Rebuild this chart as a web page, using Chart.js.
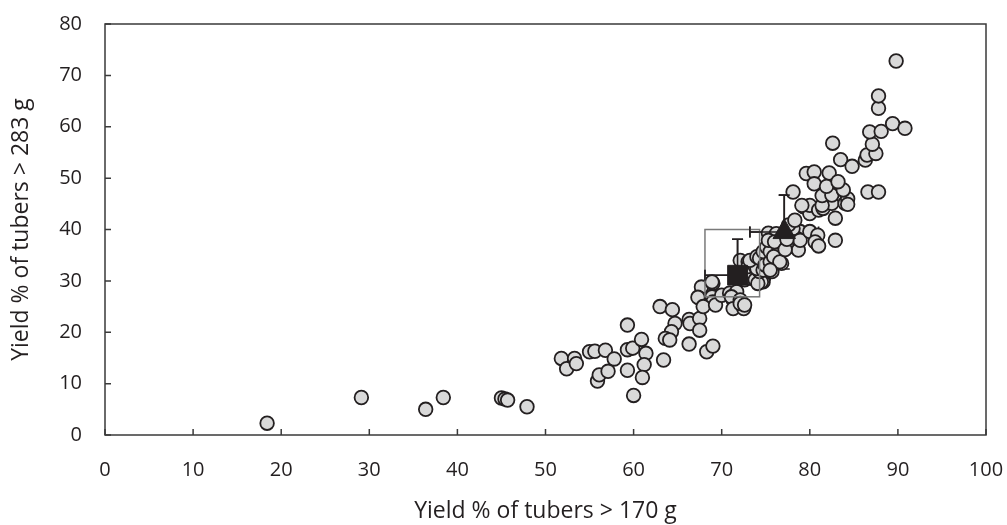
<!DOCTYPE html>
<html lang="en">
<head>
<meta charset="UTF-8">
<title>Tuber yield scatter</title>
<script src="https://cdn.jsdelivr.net/npm/chart.js@4.4.0/dist/chart.umd.min.js"></script>
<style>
  html, body { margin: 0; padding: 0; background: #fff; }
  #wrap { width: 1007px; height: 525px; }
</style>
</head>
<body>
<div id="wrap"><canvas id="chart" width="1007" height="525"></canvas></div>
<script>
// one pair per plot: yield % of tubers > 170 g (x) and > 283 g (y)
const plotX = [
  18.4, 29.1, 36.4, 38.4, 45.0, 45.4, 45.7, 47.9,
  51.8, 52.4, 53.3, 53.5, 55.0, 55.6, 56.8, 57.8, 55.9, 56.1, 57.1, 59.3,
  59.3, 59.9, 60.9, 61.4, 59.3, 61.2, 61.0, 60.0,
  63.0, 64.4, 64.7, 64.3, 63.6, 64.1, 63.4, 66.3, 66.4, 67.5, 67.5, 66.3,
  68.3, 69.0, 67.7, 69.0, 67.5, 68.7, 68.9, 67.3, 68.9, 69.0, 67.9, 69.3,
  70.0, 70.9, 71.3, 71.7, 71.1, 72.1, 71.3, 72.5, 72.1, 72.6, 72.1, 73.0,
  72.6, 73.0, 73.4, 73.8, 74.7, 74.5, 74.1, 74.3, 73.0, 73.8, 74.0, 74.7,
  73.2, 74.0, 74.3, 74.9, 74.7,
  75.5, 75.7, 75.1, 75.5, 76.2, 76.8, 75.3, 76.2, 77.4, 78.3, 78.9, 75.9,
  76.6, 75.3, 76.0, 78.5, 78.7, 78.1, 77.6, 78.3, 78.9, 77.2, 77.4, 75.5,
  80.0, 80.8, 80.9, 80.6, 81.0, 82.9, 79.3, 80.0, 80.0, 81.0, 81.5, 82.5,
  82.9, 79.1, 81.4, 84.0, 84.3, 84.3, 81.4, 82.5, 83.8, 78.1, 79.6, 80.5,
  82.2, 80.5, 81.9, 83.2, 83.5, 84.8, 82.6,
  86.3, 86.5, 87.5, 87.1, 86.8, 88.1, 89.4, 90.8, 87.8, 87.8, 89.8, 86.6, 87.8
];
const plotY = [
  2.3, 7.3, 5.0, 7.3, 7.2, 7.0, 6.8, 5.5,
  14.9, 12.9, 14.9, 13.9, 16.2, 16.3, 16.5, 14.8, 10.5, 11.7, 12.4, 21.4,
  16.6, 16.9, 18.6, 15.9, 12.6, 13.7, 11.2, 7.7,
  25.0, 24.4, 21.7, 20.1, 18.8, 18.5, 14.6, 22.5, 21.7, 22.7, 20.4, 17.7,
  16.2, 17.3, 28.8, 29.5, 26.6, 26.3, 29.8, 26.8, 26.9, 25.9, 25.0, 25.3,
  27.2, 27.6, 26.3, 27.9, 26.9, 26.3, 24.6, 24.6, 25.6, 25.3, 34.0, 33.7,
  30.2, 31.1, 30.5, 30.2, 29.8, 29.8, 29.5, 31.8, 32.8, 32.8, 32.4, 32.1,
  34.0, 34.7, 34.4, 33.1, 35.7,
  33.7, 31.8, 36.6, 35.7, 35.0, 33.4, 39.3, 39.2, 38.6, 36.6, 39.6, 34.7,
  33.7, 37.9, 37.6, 38.3, 36.0, 40.2, 40.9, 41.8, 37.9, 36.1, 38.1, 32.1,
  39.6, 37.3, 38.9, 37.6, 36.8, 37.9, 44.4, 43.1, 44.7, 43.8, 44.1, 45.1,
  42.2, 44.7, 44.7, 45.1, 46.0, 44.9, 46.6, 46.7, 47.7, 47.3, 50.9, 51.2,
  51.0, 48.9, 48.4, 49.3, 53.6, 52.3, 56.8,
  53.5, 54.5, 54.8, 56.6, 59.0, 59.1, 60.6, 59.7, 63.6, 66.0, 72.8, 47.3, 47.3
];

// group means: square, triangle, with their spread
const meanX = [71.8, 77.1];
const meanY = [31.1, 39.5];
const sdX = [3.7, 3.9];
const sdY = [7.0, 7.2];

// outlined range box
const boxX = [68.1, 74.3];
const boxY = [26.9, 40.0];

const xTicks = [0, 10, 20, 30, 40, 50, 60, 70, 80, 90, 100];
const yTicks = [0, 10, 20, 30, 40, 50, 60, 70, 80];

const ink = '#231f20';
Chart.defaults.font.family = "'Open Sans', sans-serif";
Chart.defaults.color = ink;

const extras = {
  id: 'extras',
  beforeDatasetsDraw(chart) {
    const { ctx, scales: { x, y } } = chart;
    ctx.save();
    ctx.strokeStyle = ink;
    ctx.lineWidth = 1.6;
    meanX.forEach((mx, i) => {
      const px = x.getPixelForValue(mx), py = y.getPixelForValue(meanY[i]);
      const x0 = x.getPixelForValue(mx - sdX[i]), x1 = x.getPixelForValue(mx + sdX[i]);
      const y0 = y.getPixelForValue(meanY[i] - sdY[i]), y1 = y.getPixelForValue(meanY[i] + sdY[i]);
      ctx.beginPath();
      ctx.moveTo(x0, py); ctx.lineTo(x1, py);
      ctx.moveTo(px, y0); ctx.lineTo(px, y1);
      ctx.moveTo(x0, py - 5.5); ctx.lineTo(x0, py + 5.5);
      ctx.moveTo(x1, py - 5.5); ctx.lineTo(x1, py + 5.5);
      ctx.moveTo(px - 5.5, y0); ctx.lineTo(px + 5.5, y0);
      ctx.moveTo(px - 5.5, y1); ctx.lineTo(px + 5.5, y1);
      ctx.stroke();
    });
    ctx.restore();
  },
  afterDatasetDraw(chart, args) {
    if (args.index !== 2) return;
    const { ctx, scales: { x, y } } = chart;
    const l = x.getPixelForValue(boxX[0]), r = x.getPixelForValue(boxX[1]);
    const t = y.getPixelForValue(boxY[1]), b = y.getPixelForValue(boxY[0]);
    ctx.save();
    ctx.strokeStyle = '#7a7a7a';
    ctx.lineWidth = 1.5;
    ctx.strokeRect(l, t, r - l, b - t);
    // upper and left arms stay visible over the circles
    ctx.strokeStyle = ink;
    ctx.lineWidth = 1.6;
    meanX.forEach((mx, i) => {
      const px = x.getPixelForValue(mx), py = y.getPixelForValue(meanY[i]);
      const x0 = x.getPixelForValue(mx - sdX[i]);
      const y1 = y.getPixelForValue(meanY[i] + sdY[i]);
      ctx.beginPath();
      ctx.moveTo(x0, py); ctx.lineTo(px, py);
      ctx.moveTo(px, py); ctx.lineTo(px, y1);
      ctx.moveTo(x0, py - 5.5); ctx.lineTo(x0, py + 5.5);
      ctx.moveTo(px - 5.5, y1); ctx.lineTo(px + 5.5, y1);
      ctx.stroke();
    });
    ctx.restore();
  },
  afterDraw(chart) {
    const { ctx, scales: { x, y } } = chart;
    const left = x.getPixelForValue(0), right = x.getPixelForValue(100);
    const top = y.getPixelForValue(80), bottom = y.getPixelForValue(0);
    ctx.save();
    ctx.strokeStyle = '#3a3a3a';
    ctx.lineWidth = 1.5;
    ctx.strokeRect(left, top, right - left, bottom - top);
    ctx.beginPath();
    xTicks.forEach(v => {
      const px = x.getPixelForValue(v);
      ctx.moveTo(px, bottom); ctx.lineTo(px, bottom - 6);
    });
    yTicks.forEach(v => {
      const py = y.getPixelForValue(v);
      ctx.moveTo(left, py); ctx.lineTo(left + 6, py);
    });
    ctx.stroke();
    ctx.restore();
  }
};

new Chart(document.getElementById('chart'), {
  type: 'scatter',
  data: {
    datasets: [
      {
        label: 'Square mean',
        data: [{ x: meanX[0], y: meanY[0] }],
        pointStyle: 'rect',
        pointRadius: 14,
        backgroundColor: ink,
        borderColor: ink,
        borderWidth: 1
      },
      {
        label: 'Triangle mean',
        data: [{ x: meanX[1], y: meanY[1] }],
        pointStyle: 'triangle',
        pointRadius: 13,
        backgroundColor: ink,
        borderColor: ink,
        borderWidth: 1
      },
      {
        label: 'Plots',
        data: plotX.map((v, i) => ({ x: v, y: plotY[i] })),
        pointStyle: 'circle',
        pointRadius: 6.8,
        backgroundColor: '#d9d9d9',
        borderColor: ink,
        borderWidth: 1.8
      }
    ]
  },
  options: {
    responsive: false,
    devicePixelRatio: 1,
    animation: false,
    events: [],
    layout: { padding: { left: 0, right: 21, top: 24, bottom: 0 } },
    plugins: { legend: { display: false }, tooltip: { enabled: false } },
    scales: {
      x: {
        type: 'linear',
        min: 0, max: 100,
        afterBuildTicks: s => { s.ticks = xTicks.map(v => ({ value: v })); },
        afterFit: s => { s.height = 90; s.paddingLeft = 0; s.paddingRight = 0; },
        grid: { display: false },
        border: { display: false },
        ticks: { padding: 15, font: { size: 20 }, color: ink },
        title: { display: true, text: 'Yield % of tubers > 170 g', font: { size: 23 }, color: ink, padding: { top: 0, bottom: 0 } }
      },
      y: {
        type: 'linear',
        min: 0, max: 80,
        afterBuildTicks: s => { s.ticks = yTicks.map(v => ({ value: v })); },
        afterFit: s => { s.width = 105; s.paddingTop = 0; s.paddingBottom = 0; },
        grid: { display: false },
        border: { display: false },
        ticks: { padding: 15, font: { size: 20 }, color: ink },
        title: { display: true, text: 'Yield % of tubers > 283 g', font: { size: 23 }, color: ink, padding: { top: 8, bottom: 0 } }
      }
    }
  },
  plugins: [extras]
});
</script>
</body>
</html>
